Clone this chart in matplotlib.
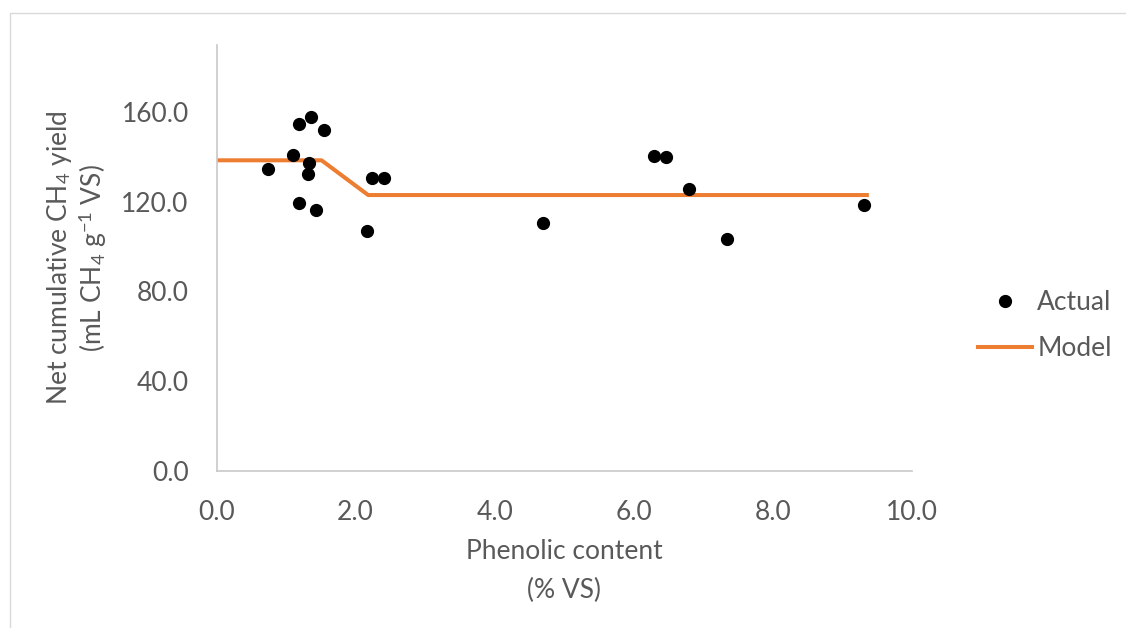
import matplotlib
matplotlib.use("Agg")
import matplotlib.pyplot as plt
from matplotlib.patches import Rectangle

plt.rcParams['font.family'] = ['Lato', 'DejaVu Sans']
plt.rcParams['mathtext.fontset'] = 'custom'
plt.rcParams['mathtext.rm'] = 'Lato'
plt.rcParams['mathtext.it'] = 'Lato:italic'

# measured points (phenolic content % VS, net CH4 yield)
actual_x = [0.745, 1.10, 1.19, 1.36, 1.54, 1.33, 1.31, 1.19, 1.43, 2.16,
            2.24, 2.41, 4.70, 6.29, 6.46, 6.80, 7.34, 9.31]
actual_y = [134.7, 140.9, 154.7, 158.0, 152.1, 137.2, 132.5, 119.6, 116.2, 106.9,
            130.7, 130.5, 110.7, 140.6, 139.9, 125.9, 103.6, 118.4]

# piecewise model
model_x = [0.0, 1.51, 2.18, 9.35]
model_y = [138.5, 138.5, 123.0, 123.0]

xticks = [0, 2, 4, 6, 8, 10]
yticks = [0, 40, 80, 120, 160]

grey = '#595959'
orange = '#ED7D31'
fs = 19

fig = plt.figure(figsize=(11.26, 6.28), dpi=100)
ax = fig.add_axes([0.1923, 0.2505, 0.6177, 0.678])

ax.plot(actual_x, actual_y, 'o', color='black', markersize=8.5, label='Actual', zorder=3)
ax.plot(model_x, model_y, '-', color=orange, linewidth=2.9, label='Model', zorder=2)

ax.set_xlim(0, 10)
ax.set_ylim(0, 190)
ax.set_xticks(xticks)
ax.set_yticks(yticks)
ax.set_xticklabels([f'{t:.1f}' for t in xticks])
ax.set_yticklabels([f'{t:.1f}' for t in yticks])
ax.tick_params(length=0, labelsize=fs, colors=grey)
ax.tick_params(axis='x', pad=21)
ax.tick_params(axis='y', pad=20)

for s in ['top', 'right']:
    ax.spines[s].set_visible(False)
for s in ['left', 'bottom']:
    ax.spines[s].set_color('#c8c8c8')
    ax.spines[s].set_linewidth(1.2)

ax.set_xlabel('Phenolic content\n(% VS)', fontsize=fs, color=grey, labelpad=10,
              linespacing=1.7)
ax.set_ylabel('Net cumulative CH$_4$ yield\n(mL CH$_4$ g$^{-1}$ VS)', fontsize=fs,
              color=grey, labelpad=9, linespacing=1.1)

leg = ax.legend(loc='center left', bbox_to_anchor=(0.859, 0.482), bbox_transform=fig.transFigure,
                frameon=False, fontsize=fs, handlelength=2.05, handletextpad=0.2,
                labelspacing=0.8, borderaxespad=0)
for t in leg.get_texts():
    t.set_color(grey)

# outer chart border
fig.patches.append(Rectangle((10 / 1126, -0.05), 1.2, 1 - 13 / 628 + 0.05,
                             transform=fig.transFigure, fill=False,
                             edgecolor='#d9d9d9', linewidth=1))

fig.savefig('out.png', dpi=100)
